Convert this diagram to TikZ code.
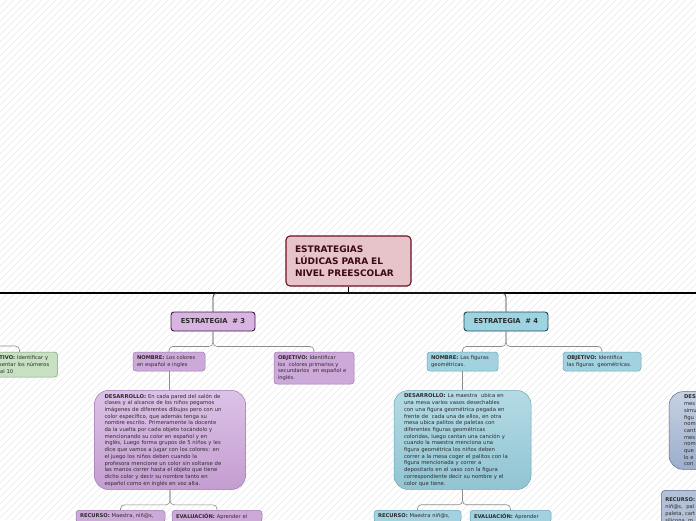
\documentclass[tikz,border=0pt]{standalone}
\usepackage{fontspec}
\setmainfont{DejaVu Sans}
\usepackage{xcolor}
\definecolor{rootfill}{HTML}{E7C4CA}
\definecolor{rootline}{HTML}{6B1020}
\definecolor{rootink}{HTML}{3A0A10}
\definecolor{lilafill}{HTML}{D8B5E0}
\definecolor{lilaline}{HTML}{3D1A4A}
\definecolor{lilaleaf}{HTML}{CDA9D9}
\definecolor{lilaedge}{HTML}{9B7AAE}
\definecolor{lilatop}{HTML}{DCC2E6}
\definecolor{lilabot}{HTML}{C49DD1}
\definecolor{celefill}{HTML}{9ED4E1}
\definecolor{celeline}{HTML}{234A57}
\definecolor{celeleaf}{HTML}{A2D2DF}
\definecolor{celeedge}{HTML}{6FA5B5}
\definecolor{celetop}{HTML}{B3DBE6}
\definecolor{celebot}{HTML}{92C4D2}
\definecolor{verdefill}{HTML}{C8E0C2}
\definecolor{verdeedge}{HTML}{7FA37A}
\definecolor{grisfill}{HTML}{B3C1D8}
\definecolor{gristop}{HTML}{C6D1E3}
\definecolor{grisbot}{HTML}{9CAECB}
\definecolor{grisedge}{HTML}{5A6C8C}
\definecolor{inkdark}{HTML}{2B2B2B}
\usetikzlibrary{positioning}

\begin{document}
\begin{tikzpicture}[x=1pt,y=-1pt,
  root/.style={draw=rootline, fill=rootfill, rounded corners=4pt,
               line width=1.1pt, minimum width=125pt, minimum height=50pt,
               text width=107pt, align=left, text=rootink,
               font=\fontsize{9}{12}\selectfont\bfseries},
  strat/.style={rounded corners=3pt, line width=0.9pt,
                minimum width=84pt, minimum height=19pt, text=inkdark,
                font=\fontsize{6.8}{8}\selectfont\bfseries},
  leaf/.style={rounded corners=3pt, line width=0.5pt, align=left,
               inner xsep=4pt, inner ysep=2pt, text=inkdark,
               font=\fontsize{5.2}{6.8}\selectfont},
  devel/.style={rounded corners=14pt, line width=0.5pt, align=left,
                inner xsep=0pt, text=inkdark,
                font=\fontsize{5.3}{6.7}\selectfont},
  trunk/.style={draw=black, line width=1.5pt},
  branch/.style={draw=black!80, line width=0.8pt, rounded corners=4pt},
  twig/.style={draw=black!45, line width=0.6pt, rounded corners=4pt},
  hatch/.style={draw=black!9, line width=0.4pt}
]
\useasboundingbox (0,0) rectangle (696,520);
\clip (0,0) rectangle (696,520);

%% background
\fill[white] (0,0) rectangle (696,520);
\foreach \i in {-520,-513,...,696}
  \draw[hatch] (\i,520) -- ++(520,-520);

%% central topic
\node[root] (root) at (348.5,261)
  {ESTRATEGIAS\\ LÚDICAS PARA EL\\ NIVEL PREESCOLAR};
\coordinate (barW) at (0,293);
\coordinate (barE) at (696,293);

\node[strat, draw=lilaline, fill=lilafill] (e3) at (213,321.5) {ESTRATEGIA~~\# 3};
\node[strat, draw=celeline, fill=celefill] (e4) at (506,321.5) {ESTRATEGIA~~\# 4};

%% strategy 3
\node[leaf, draw=lilaedge, fill=lilaleaf, text width=64pt, minimum height=19pt]
  (n3) at (169,361.5) {\textbf{NOMBRE:} Los colores\\ en español e ingles};
\node[leaf, draw=lilaedge, fill=lilaleaf, text width=72pt, minimum height=32pt]
  (o3) at (314,368) {\textbf{OBJETIVO:} Identificar\\ los~ colores primarios y\\
  secundarios~ en español e\\ inglés.};
\node[devel, draw=lilaedge, top color=lilatop, bottom color=lilabot,
      text width=131pt, minimum width=151pt, minimum height=96pt]
  (d3) at (170,440) {\textbf{DESARROLLO:} En cada pared del salón de\\
  clases y al alcance de los niños pegamos\\
  imágenes de diferentes dibujos pero con un\\
  color específico, que además tenga su\\
  nombre escrito. Primeramente la docente\\
  da la vuelta por cada objeto tocándolo y\\
  mencionando su color en español y en\\
  inglés, Luego forma grupos de 5 niños y les\\
  dice que vamos a jugar con los colores: en\\
  el juego los niños deben cuando la\\
  profesora mencione un color sin soltarse de\\
  las manos correr hasta el objeto que tiene\\
  dicho color y decir su nombre tanto en\\
  español como en inglés en voz alta.};
\node[leaf, draw=lilaedge, fill=lilaleaf, anchor=north, text width=81pt,
      minimum height=12pt, inner ysep=2.5pt]
  (r3) at (120.5,510) {\textbf{RECURSO:} Maestra, niñ@s,};
\node[leaf, draw=lilaedge, fill=lilaleaf, anchor=north, text width=82pt,
      minimum height=12pt, inner ysep=2.5pt]
  (v3) at (217,510) {\textbf{EVALUACIÓN:} Aprender el};

%% strategy 4
\node[leaf, draw=celeedge, fill=celeleaf, text width=63pt, minimum height=19pt]
  (n4) at (462.5,361.5) {\textbf{NOMBRE:} Las figuras\\ geométricas.};
\node[leaf, draw=celeedge, fill=celeleaf, text width=70pt, minimum height=19pt]
  (o4) at (602,361.5) {\textbf{OBJETIVO:} Identifica\\ las figuras~ geométricas.};
\node[devel, draw=celeedge, top color=celetop, bottom color=celebot,
      text width=117pt, minimum width=137pt, minimum height=96pt]
  (d4) at (462.5,440) {\textbf{DESARROLLO:} La maestra~ ubica en\\
  una mesa varios vasos desechables\\
  con una figura geométrica pegada en\\
  frente de~ cada una de ellos, en otra\\
  mesa ubica palitos de paletas con\\
  diferentes figuras geométricas\\
  coloridas, luego cantan una canción y\\
  cuando la maestra menciona una\\
  figura geométrica los niños deben\\
  correr a la mesa coger el palitos con la\\
  figura mencionada y correr a\\
  depositarlo en el vaso con la figura\\
  correspondiente decir su nombre y el\\
  color que tiene.};
\node[leaf, draw=celeedge, fill=celeleaf, anchor=north, text width=79pt,
      minimum height=12pt, inner ysep=2.5pt]
  (r4) at (417.5,510) {\textbf{RECURSO:} Maestra niñ@s,};
\node[leaf, draw=celeedge, fill=celeleaf, anchor=north, text width=73pt,
      minimum height=12pt, inner ysep=2.5pt]
  (v4) at (510.5,510) {\textbf{EVALUACIÓN:} Aprender};

%% cut at the edges
\node[leaf, draw=verdeedge, fill=verdefill, text width=68pt, minimum height=25pt]
  (g2) at (19.5,364.5) {\textbf{OBJETIVO:} Identificar y\\ representar los números\\ del 1 al 10};
\coordinate (lbar) at (0,346);
\node[devel, draw=grisedge, top color=gristop, bottom color=grisbot,
      text width=110pt, minimum width=140pt, minimum height=77pt]
  (d5) at (739,430.5) {\textbf{DESARROLLO:}\\ mes\\ simu\\ figu\\ nom\\ cant\\
  mes\\ nom\\ que\\ lo e\\ con};
\node[leaf, draw=grisedge, fill=grisfill, anchor=north west, text width=92pt,
      minimum height=40pt, inner ysep=4pt, rounded corners=4pt]
  (r5) at (661,490) {\textbf{RECURSO:}\\ niñ@s,~ pal\\ paleta, cart\\ silicona, m};

%% connectors
\draw[trunk] (barW) -- (barE);
\draw[trunk] (root.south) -- (root.south |- barW);
\foreach \s in {e3,e4}
  \draw[branch] (root.south |- barW) -| (\s.north);
\foreach \c in {n3,o3}
  \draw[twig] (e3.south) -- ++(0,15) -| (\c.north);
\foreach \c in {n4,o4}
  \draw[twig] (e4.south) -- ++(0,15) -| (\c.north);
\draw[twig] (n3.south) -- (n3.south |- d3.north);
\draw[twig] (n4.south) -- (d4.north);
\foreach \c in {r3,v3}
  \draw[twig] (d3.south) -- ++(0,15) -| (\c.north);
\foreach \c in {r4,v4}
  \draw[twig] (d4.south) -- ++(0,15) -| (\c.north);
\draw[twig] (lbar) -| (g2.north);

\end{tikzpicture}
\end{document}
